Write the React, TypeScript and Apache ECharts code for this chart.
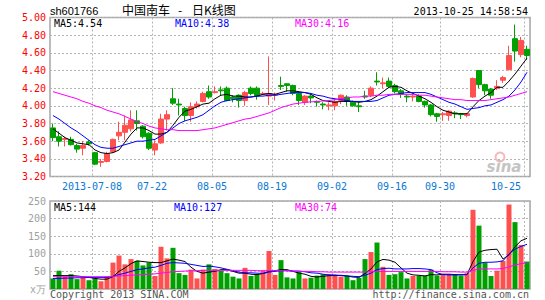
import React, { useEffect, useRef } from "react";
import * as echarts from "echarts";

const dates = [
  "2013-06-27", "2013-06-28",
  "2013-07-01", "2013-07-02", "2013-07-03", "2013-07-04", "2013-07-05", "2013-07-08", "2013-07-09", "2013-07-10",
  "2013-07-11", "2013-07-12", "2013-07-15", "2013-07-16", "2013-07-17", "2013-07-18", "2013-07-19", "2013-07-22",
  "2013-07-23", "2013-07-24", "2013-07-25", "2013-07-26", "2013-07-29", "2013-07-30", "2013-07-31",
  "2013-08-01", "2013-08-02", "2013-08-05", "2013-08-06", "2013-08-07", "2013-08-08", "2013-08-09", "2013-08-12",
  "2013-08-13", "2013-08-14", "2013-08-15", "2013-08-16", "2013-08-19", "2013-08-20", "2013-08-21", "2013-08-22",
  "2013-08-23", "2013-08-26", "2013-08-27", "2013-08-28", "2013-08-29", "2013-08-30",
  "2013-09-02", "2013-09-03", "2013-09-04", "2013-09-05", "2013-09-06", "2013-09-09", "2013-09-10", "2013-09-11",
  "2013-09-12", "2013-09-13", "2013-09-16", "2013-09-17", "2013-09-18", "2013-09-23", "2013-09-24", "2013-09-25",
  "2013-09-26", "2013-09-27", "2013-09-30",
  "2013-10-08", "2013-10-09", "2013-10-10", "2013-10-11", "2013-10-14", "2013-10-15", "2013-10-16", "2013-10-17",
  "2013-10-18", "2013-10-21", "2013-10-22", "2013-10-23", "2013-10-24", "2013-10-25",
];

const tickDates = ["2013-07-08", "2013-07-22", "2013-08-05", "2013-08-19", "2013-09-02", "2013-09-16", "2013-09-30", "2013-10-25"];

const opens = [
  3.75, 3.65, 3.62, 3.62, 3.55, 3.52, 3.59, 3.47, 3.36, 3.37,
  3.48, 3.66, 3.70, 3.74, 3.83, 3.77, 3.69, 3.50, 3.58, 3.85,
  4.08, 4.02, 3.97, 3.89, 3.99, 4.05, 4.16, 4.15, 4.18, 4.20,
  4.10, 4.12, 4.06, 4.20, 4.20, 4.13, 4.11, 4.12, 4.23, 4.25,
  4.23, 4.14, 4.04, 4.11, 4.05, 4.02, 4.00, 4.00, 4.06, 4.10,
  4.04, 4.00, 4.11, 4.12, 4.28, 4.25, 4.28, 4.23, 4.17, 4.11,
  4.10, 4.11, 4.05, 4.01, 3.91, 3.90, 3.89, 3.92, 3.91, 3.89,
  4.10, 4.40, 4.24, 4.19, 4.20, 4.29, 4.41, 4.76, 4.58, 4.64,
];
const closes = [
  3.64, 3.60, 3.63, 3.56, 3.51, 3.55, 3.57, 3.34, 3.37, 3.46,
  3.62, 3.70, 3.78, 3.84, 3.80, 3.65, 3.52, 3.57, 3.85, 3.90,
  4.03, 4.01, 3.89, 3.99, 4.02, 4.14, 4.10, 4.16, 4.17, 4.06,
  4.08, 4.06, 4.15, 4.14, 4.11, 4.14, 4.14, 4.13, 4.22, 4.23,
  4.14, 4.06, 4.11, 4.09, 4.04, 4.01, 4.01, 4.05, 4.12, 4.05,
  4.00, 3.99, 4.10, 4.20, 4.27, 4.26, 4.22, 4.16, 4.13, 4.10,
  4.11, 4.05, 4.01, 3.90, 3.88, 3.91, 3.94, 3.91, 3.90, 3.91,
  4.31, 4.24, 4.17, 4.12, 4.22, 4.32, 4.57, 4.62, 4.74, 4.57,
];
const lows = [
  3.60, 3.54, 3.54, 3.55, 3.47, 3.44, 3.55, 3.33, 3.31, 3.36,
  3.47, 3.61, 3.61, 3.71, 3.72, 3.63, 3.50, 3.44, 3.57, 3.72,
  4.01, 3.89, 3.83, 3.82, 3.97, 4.04, 4.08, 4.14, 4.12, 4.05,
  4.04, 3.98, 4.00, 4.12, 4.07, 4.12, 4.01, 4.06, 4.18, 4.16,
  4.12, 4.01, 4.01, 4.03, 3.99, 3.96, 3.95, 3.95, 4.02, 4.00,
  3.99, 3.93, 4.08, 4.10, 4.23, 4.20, 4.20, 4.14, 4.09, 4.04,
  4.05, 4.04, 3.98, 3.88, 3.82, 3.83, 3.83, 3.86, 3.85, 3.87,
  4.09, 4.20, 4.12, 4.08, 4.18, 4.26, 4.40, 4.50, 4.55, 4.52,
];
const highs = [
  3.80, 3.71, 3.65, 3.65, 3.57, 3.60, 3.61, 3.48, 3.40, 3.48,
  3.63, 3.82, 3.89, 3.95, 3.95, 3.78, 3.70, 3.61, 3.91, 3.95,
  4.20, 4.08, 3.99, 4.04, 4.05, 4.16, 4.23, 4.22, 4.22, 4.22,
  4.12, 4.13, 4.17, 4.22, 4.22, 4.16, 4.56, 4.15, 4.33, 4.25,
  4.24, 4.16, 4.12, 4.13, 4.06, 4.04, 4.04, 4.08, 4.13, 4.12,
  4.06, 4.04, 4.17, 4.22, 4.38, 4.32, 4.32, 4.25, 4.19, 4.13,
  4.13, 4.13, 4.06, 4.02, 3.92, 3.93, 3.95, 3.94, 3.92, 3.92,
  4.32, 4.40, 4.25, 4.20, 4.29, 4.34, 4.68, 4.92, 4.78, 4.68,
];
const volumes = [
  30, 52, 35, 42, 28, 32, 25, 30, 22, 35,
  75, 95, 70, 85, 80, 67, 75, 37, 120, 87,
  117, 45, 40, 55, 30, 55, 70, 57, 52, 45,
  35, 30, 60, 37, 42, 52, 108, 40, 82, 33,
  30, 50, 30, 32, 38, 42, 42, 38, 35, 38,
  25, 32, 85, 105, 132, 63, 40, 42, 48, 30,
  37, 38, 38, 55, 38, 42, 42, 40, 38, 45,
  225, 180, 75, 37, 52, 80, 240, 190, 125, 78,
];

const ma5 = [
  3.74, 3.69, 3.64, 3.61, 3.58, 3.57, 3.56, 3.50, 3.47, 3.46,
  3.47, 3.50, 3.59, 3.68, 3.75, 3.75, 3.72, 3.68, 3.68, 3.70,
  3.78, 3.87, 3.94, 3.96, 3.99, 4.02, 4.03, 4.08, 4.12, 4.13,
  4.11, 4.11, 4.10, 4.10, 4.11, 4.13, 4.14, 4.13, 4.15, 4.17,
  4.17, 4.16, 4.15, 4.13, 4.09, 4.06, 4.05, 4.04, 4.05, 4.05,
  4.05, 4.04, 4.05, 4.07, 4.11, 4.16, 4.21, 4.22, 4.21, 4.17,
  4.14, 4.11, 4.08, 4.04, 3.99, 3.95, 3.93, 3.91, 3.91, 3.91,
  3.99, 4.06, 4.11, 4.15, 4.21, 4.21, 4.28, 4.36, 4.45, 4.54,
];
const ma10 = [
  3.89, 3.85, 3.80, 3.75, 3.71, 3.66, 3.61, 3.56, 3.53, 3.52,
  3.52, 3.54, 3.56, 3.58, 3.60, 3.60, 3.61, 3.62, 3.66, 3.70,
  3.75, 3.80, 3.83, 3.85, 3.87, 3.90, 3.95, 4.00, 4.04, 4.06,
  4.07, 4.08, 4.09, 4.10, 4.11, 4.11, 4.12, 4.12, 4.13, 4.14,
  4.15, 4.15, 4.15, 4.14, 4.12, 4.11, 4.09, 4.08, 4.07, 4.06,
  4.05, 4.05, 4.05, 4.05, 4.06, 4.09, 4.12, 4.13, 4.14, 4.15,
  4.15, 4.15, 4.15, 4.13, 4.10, 4.07, 4.04, 4.02, 3.99, 3.96,
  3.97, 3.98, 4.00, 4.01, 4.04, 4.07, 4.11, 4.18, 4.27, 4.38,
];
const ma30 = [
  4.16, 4.14, 4.12, 4.10, 4.08, 4.05, 4.03, 4.00, 3.98, 3.95,
  3.93, 3.91, 3.88, 3.85, 3.82, 3.80, 3.77, 3.75, 3.74, 3.73,
  3.73, 3.72, 3.72, 3.72, 3.72, 3.73, 3.74, 3.75, 3.77, 3.79,
  3.81, 3.83, 3.85, 3.86, 3.88, 3.90, 3.92, 3.95, 3.98, 4.00,
  4.02, 4.03, 4.04, 4.045, 4.05, 4.055, 4.06, 4.07, 4.08, 4.09,
  4.10, 4.10, 4.11, 4.11, 4.12, 4.12, 4.13, 4.13, 4.13, 4.13,
  4.13, 4.12, 4.12, 4.11, 4.10, 4.09, 4.08, 4.07, 4.07, 4.06,
  4.06, 4.06, 4.06, 4.07, 4.08, 4.09, 4.10, 4.12, 4.14, 4.16,
];
const volMa5 = [
  38, 38, 38, 38, 37, 35, 33, 30, 28, 28,
  35, 50, 60, 72, 80, 78, 76, 75, 75, 80,
  85, 82, 78, 62, 50, 45, 48, 50, 55, 55,
  50, 45, 45, 42, 41, 44, 50, 52, 55, 55,
  50, 45, 42, 36, 34, 36, 38, 38, 39, 37,
  34, 33, 44, 57, 77, 84, 82, 76, 60, 45,
  40, 39, 37, 41, 40, 42, 42, 41, 40, 41,
  78, 105, 110, 112, 113, 85, 97, 120, 137, 144,
];
const volMa10 = [
  30, 30, 31, 31, 32, 32, 33, 33, 33, 33,
  36, 41, 45, 50, 55, 57, 60, 62, 67, 73,
  75, 74, 73, 70, 67, 64, 65, 63, 60, 56,
  52, 48, 46, 46, 45, 44, 48, 50, 52, 52,
  51, 51, 49, 46, 45, 42, 40, 40, 38, 37,
  36, 35, 39, 45, 55, 58, 59, 57, 57, 57,
  58, 58, 57, 55, 46, 41, 40, 40, 41, 41,
  60, 73, 76, 76, 77, 80, 100, 113, 121, 127,
];
const volMa30 = [
  35, 35, 35, 35, 35, 35, 35, 35, 35, 35,
  36, 37, 38, 39, 40, 41, 42, 43, 45, 47,
  49, 50, 51, 52, 52, 53, 53, 53, 53, 53,
  53, 53, 53, 53, 52, 52, 52, 52, 52, 52,
  51, 50, 50, 50, 49, 49, 48, 48, 48, 48,
  48, 48, 48, 49, 50, 50, 50, 50, 50, 50,
  50, 50, 50, 50, 50, 49, 49, 49, 48, 48,
  53, 57, 57, 57, 57, 58, 63, 68, 72, 74,
];

const priceMin = 3.2;
const priceMax = 5.0;
const priceStep = 0.2;
const volMin = 0;
const volMax = 250;
const volStep = 50;

const UP = "#ff5050";
const DOWN = "#00a000";
const MONO = "DejaVu Sans Mono";

export default function App() {
  const ref = useRef<HTMLDivElement>(null);
  useEffect(() => {
    if (!ref.current) return;
    const chart = echarts.init(ref.current, null, { renderer: "svg" });
    const tickSet = new Set(tickDates);
    const showTick = (_i: number, v: string) => tickSet.has(v);
    const grid = { type: [2, 2] as any, color: "#b4b4b4", width: 1 };
    const last = (a: number[]) => a[a.length - 1];
    const candleData = dates.map((_, i) => [opens[i], closes[i], lows[i], highs[i]]);
    const volData = volumes.map((v, i) => ({
      value: v,
      itemStyle: { color: closes[i] >= opens[i] ? UP : DOWN },
    }));
    const line = (name: string, data: number[], color: string, idx: number) => ({
      name,
      type: "line",
      xAxisIndex: idx,
      yAxisIndex: idx,
      data,
      symbol: "none",
      showSymbol: false,
      lineStyle: { color, width: 1 },
      z: 5,
    });
    const txt = (text: string, x: number, y: number, fill: string, extra: any = {}) => ({
      type: "text",
      x,
      y,
      style: {
        text,
        fill,
        font: `10px "${MONO}"`,
        textAlign: "left",
        textVerticalAlign: "middle",
        ...extra,
      },
      z: 20,
    });
    const cjk = '12px "Noto Sans CJK SC"';
    chart.setOption({
      animation: false,
      backgroundColor: "#ffffff",
      grid: [
        { left: 50, top: 17.5, width: 480, height: 159, show: true, borderColor: "#a6a6a6", borderWidth: 1.5 },
        { left: 50, top: 201, width: 480, height: 88, show: true, borderColor: "#a6a6a6", borderWidth: 1.5 },
      ],
      xAxis: [
        {
          type: "category",
          gridIndex: 0,
          data: dates,
          boundaryGap: true,
          axisLine: { show: false },
          axisTick: { show: false },
          axisLabel: {
            interval: showTick,
            formatter: (v: string) => (v === tickDates[0] ? v : v.slice(5)),
            color: "#0a78d2",
            fontFamily: MONO,
            fontSize: 10,
            margin: 5,
            padding: [0, 6, 0, 0],
            alignMaxLabel: "right",
          },
          splitLine: { show: true, interval: showTick, lineStyle: grid },
        },
        {
          type: "category",
          gridIndex: 1,
          data: dates,
          boundaryGap: true,
          axisLine: { show: false },
          axisTick: { show: false },
          axisLabel: { show: false },
          splitLine: { show: true, interval: showTick, lineStyle: grid },
        },
      ],
      yAxis: [
        {
          type: "value",
          gridIndex: 0,
          min: priceMin,
          max: priceMax,
          interval: priceStep,
          axisLine: { show: false },
          axisTick: { show: false },
          axisLabel: {
            formatter: (v: number) => v.toFixed(2),
            color: "#ff0000",
            fontFamily: MONO,
            fontSize: 10,
            margin: 4,
          },
          splitLine: { show: true, lineStyle: grid },
        },
        {
          type: "value",
          gridIndex: 1,
          min: volMin,
          max: volMax,
          interval: volStep,
          axisLine: { show: false },
          axisTick: { show: false },
          axisLabel: {
            formatter: (v: number) => (v === 0 ? "x万" : String(v)),
            color: "#a0a0a0",
            fontFamily: MONO,
            fontSize: 10,
            margin: 4,
          },
          splitLine: { show: true, lineStyle: grid },
        },
      ],
      series: [
        {
          name: "K",
          type: "candlestick",
          xAxisIndex: 0,
          yAxisIndex: 0,
          data: candleData,
          barWidth: 5,
          itemStyle: {
            color: UP,
            color0: DOWN,
            borderColor: UP,
            borderColor0: DOWN,
            borderWidth: 1,
          },
          z: 3,
        },
        line("MA5", ma5, "#000000", 0),
        line("MA10", ma10, "#0000ff", 0),
        line("MA30", ma30, "#ff00ff", 0),
        {
          name: "VOL",
          type: "bar",
          xAxisIndex: 1,
          yAxisIndex: 1,
          data: volData,
          barWidth: 5,
          z: 3,
        },
        line("VMA5", volMa5, "#000000", 1),
        line("VMA10", volMa10, "#0000ff", 1),
        line("VMA30", volMa30, "#ff00ff", 1),
      ],
      graphic: [
        txt("sh601766", 50, 11, "#000000", { font: '11px "Liberation Sans"' }),
        txt("中国南车", 122, 9.5, "#000000", { font: cjk, letterSpacing: 0.5 }),
        txt("-", 178, 9.5, "#000000", { font: cjk }),
        txt("日K线图", 192, 9.5, "#000000", { font: cjk }),
        txt("2013-10-25 14:58:54", 528, 11, "#000000", { textAlign: "right" }),
        txt(`MA5:${last(ma5).toFixed(2)}`, 54, 23.5, "#000000"),
        txt(`MA10:${last(ma10).toFixed(2)}`, 175, 23.5, "#0000ff"),
        txt(`MA30:${last(ma30).toFixed(2)}`, 295, 23.5, "#ff00ff"),
        txt(`MA5:${last(volMa5)}`, 54, 207, "#000000"),
        txt(`MA10:${last(volMa10)}`, 174, 207, "#0000ff"),
        txt(`MA30:${last(volMa30)}`, 295, 207, "#ff00ff"),
        txt("Copyright 2013 SINA.COM", 50, 294, "#555555"),
        txt("http://finance.sina.com.cn", 529, 294, "#555555", { textAlign: "right" }),
        {
          type: "circle",
          shape: { cx: 500, cy: 157, r: 4.5 },
          style: { fill: "none", stroke: "#f6b8b8", lineWidth: 2 },
          z: 1,
        },
        txt("sina", 504, 167, "#c4c4c4", { font: 'italic bold 15px "DejaVu Sans"', textAlign: "center" }),
      ],
    });
    return () => chart.dispose();
  }, []);
  return (
    <div
      ref={ref}
      style={{ position: "fixed", left: 0, top: 0, width: 545, height: 300, background: "#fff" }}
    />
  );
}
